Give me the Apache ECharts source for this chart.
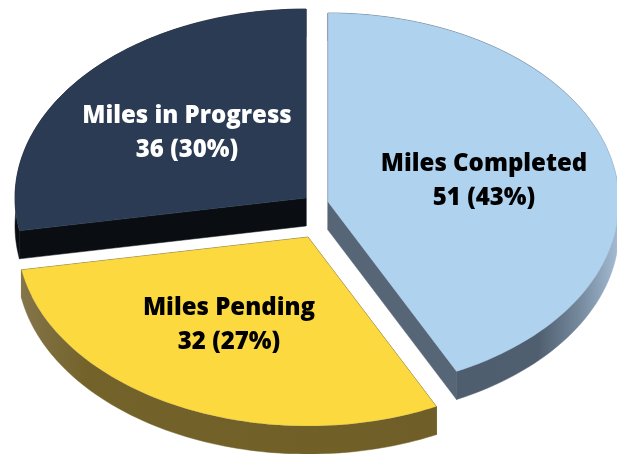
<!DOCTYPE html>
<html><head><meta charset="utf-8">
<style>html,body{margin:0;padding:0;background:#fff}#c{width:617px;height:454px}</style>
<script src="https://cdn.jsdelivr.net/npm/echarts@6/dist/echarts.min.js"></script>
</head><body><div id="c"></div>
<script>
const categories = ['Miles Completed', 'Miles Pending', 'Miles in Progress'];
const miles = [51, 32, 36];

// --- drawing style and layout, separate from the data ---
const rx = 291, ry = 189, depth = 28;
const apex = [[328, 202], [308, 237], [306, 198]];
const labelAt = [[484, 181], [229, 325], [187, 133]];
const topFill = ['#AFD2EF', '#FCD93E', '#2B3B53'];
const topStroke = ['rgba(110,130,150,0.3)', 'rgba(120,120,100,0.3)', 'rgba(43,59,83,0.6)'];
const labelFill = ['#000000', '#000000', '#FFFFFF'];
const radialWall = ['#566677', '#6F5F28', '#0A0E13'];
const arcWall = [
  [[0, '#4D5C6C'], [0.72, '#4F5F70'], [0.86, '#74889C'], [1, '#A5BDD4']],
  [[0, '#84754A'], [0.16, '#736229'], [1, '#6F5E27']],
  [[0, '#0A0E13'], [1, '#0A0E13']]
];
// The source's drawn sweep departs slightly from a true pie: share of circle -> drawn angle.
const warpKnots = [[0, 0], [0.4286, 153.8], [0.6975, 260], [1, 360]];

const total = miles.reduce((a, b) => a + b, 0);
const rows = [];
miles.forEach((v, i) => rows.push([v, miles.slice(0, i).reduce((a, b) => a + b, 0), i]));

function drawnAngle(share) {
  for (let k = 1; k < warpKnots.length; k++) {
    const [a0, b0] = warpKnots[k - 1], [a1, b1] = warpKnots[k];
    if (share <= a1 + 1e-9) return (b0 + (share - a0) / (a1 - a0) * (b1 - b0)) * Math.PI / 180;
  }
  return 2 * Math.PI;
}

function renderItem(params, api) {
  const value = api.value(0), before = api.value(1), i = api.value(2);
  const [cx, cy] = apex[i];
  const a0 = drawnAngle(before / total), a1 = drawnAngle((before + value) / total);
  const pt = a => [cx + rx * Math.sin(a), cy - ry * Math.cos(a)];
  const down = p => [p[0], p[1] + depth];
  const n = 90, arc = [];
  for (let k = 0; k <= n; k++) arc.push(pt(a0 + (a1 - a0) * k / n));
  const c = [cx, cy], first = arc[0], last = arc[n];
  const children = [];
  const wallPoly = (pts, fill) => children.push({
    type: 'polygon', shape: { points: pts }, style: { fill, stroke: fill, lineWidth: 0.5 }
  });
  wallPoly([c, first, down(first), down(c)], radialWall[i]);
  wallPoly([c, last, down(last), down(c)], radialWall[i]);
  const grad = new echarts.graphic.LinearGradient(0, 0, 1, 0, arcWall[i].map(s => ({ offset: s[0], color: s[1] })));
  wallPoly(arc.concat(arc.slice().reverse().map(down)), grad);
  children.push({
    type: 'polygon', shape: { points: [c].concat(arc) },
    style: { fill: topFill[i], stroke: topStroke[i], lineWidth: 0.6 }
  });
  const pct = Math.round(value / total * 100);
  children.push({
    type: 'text',
    style: {
      x: labelAt[i][0], y: labelAt[i][1],
      text: categories[i] + '\n' + value + ' (' + pct + '%)',
      fill: labelFill[i], align: 'center', verticalAlign: 'middle',
      font: '800 24px "Open Sans"', lineHeight: 34
    }
  });
  return { type: 'group', children };
}

const chart = echarts.init(document.getElementById('c'), null, { renderer: 'canvas' });
chart.setOption({
  backgroundColor: '#ffffff',
  animation: false,
  series: [{
    type: 'custom', coordinateSystem: 'none', silent: true,
    renderItem, data: rows
  }]
});
</script></body></html>
